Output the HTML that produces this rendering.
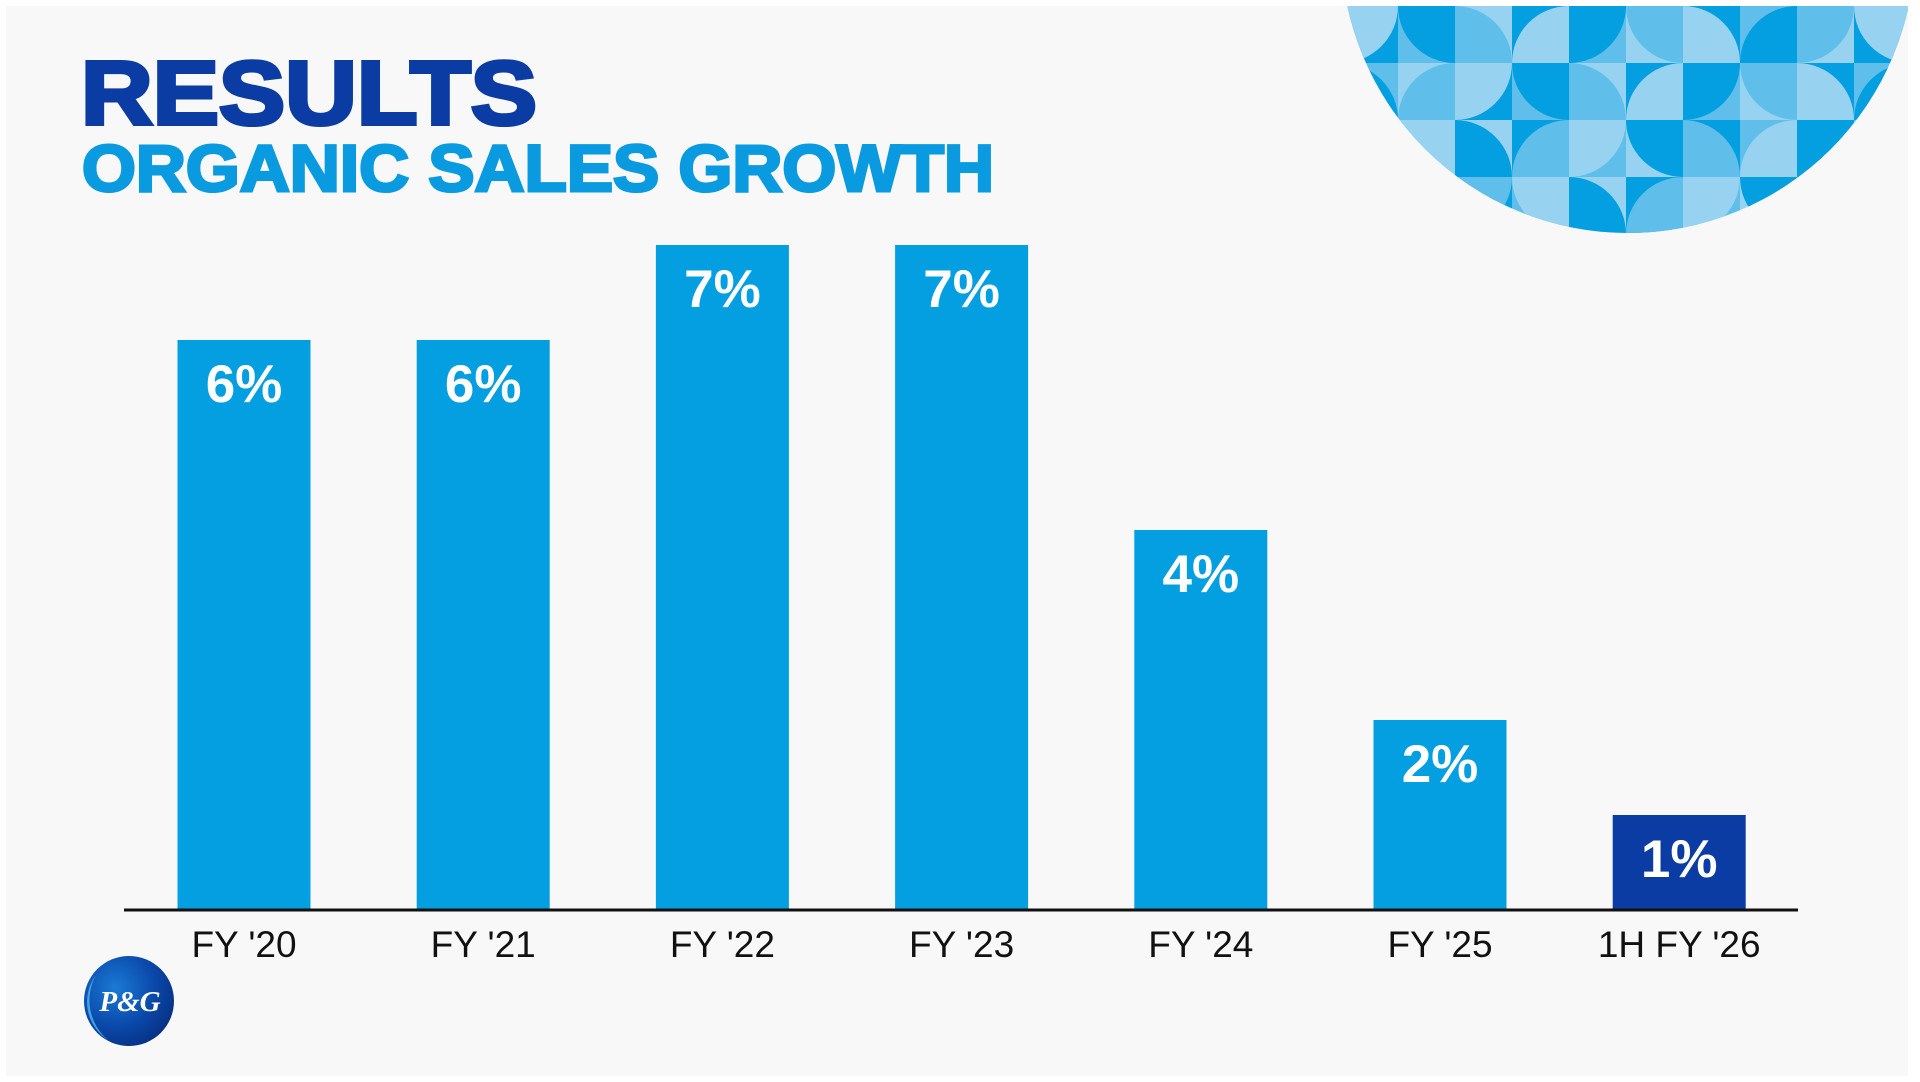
<!DOCTYPE html>
<html><head><meta charset="utf-8"><style>
html,body{margin:0;padding:0;background:#fff;}
svg{display:block;}
</style></head><body>
<svg id="chart" width="1920" height="1082" viewBox="0 0 1920 1082" xmlns="http://www.w3.org/2000/svg">
<defs>
<clipPath id="circ"><path d="M1341 6 L1908 6 L1908 260 L1341 260Z" transform=""/></clipPath>
<clipPath id="circ2"><circle cx="1628" cy="-54" r="287"/></clipPath>
<radialGradient id="logoG" cx="0.35" cy="0.35" r="0.75">
<stop offset="0" stop-color="#1a7ad6"/><stop offset="0.6" stop-color="#0a47a8"/><stop offset="1" stop-color="#062f80"/>
</radialGradient>
</defs>
<rect x="0" y="0" width="1920" height="1082" fill="#ffffff"/>
<rect x="6" y="6" width="1902" height="1070" fill="#f8f8f8"/>
<g clip-path="url(#circ)"><g id="pattern" clip-path="url(#circ2)"></g></g>
<text x="81" y="124" font-family="Liberation Sans, Arial, sans-serif" font-weight="bold" font-size="90" fill="#0a3ca3" stroke="#0a3ca3" stroke-width="4" textLength="456" lengthAdjust="spacingAndGlyphs">RESULTS</text>
<text x="82" y="191" font-family="Liberation Sans, Arial, sans-serif" font-weight="bold" font-size="66" fill="#0a9ae0" stroke="#0a9ae0" stroke-width="3" textLength="912" lengthAdjust="spacingAndGlyphs">ORGANIC SALES GROWTH</text>
<g id="bars"></g>
<line x1="124" y1="910" x2="1798" y2="910" stroke="#111" stroke-width="3"/>
<g id="xlabels"></g>
<g>
<circle cx="129" cy="1001" r="45" fill="url(#logoG)"/>
<path d="M96 975 A45 45 0 0 0 108 1040 A52 52 0 0 1 96 975Z" fill="#4fb6ef" opacity="0.8"/>
<text x="130" y="1011" text-anchor="middle" font-family="Liberation Serif, serif" font-style="italic" font-weight="bold" font-size="29" fill="#fff">P&amp;G</text>
</g>
</svg>
<script>
const categories = ["FY '20","FY '21","FY '22","FY '23","FY '24","FY '25","1H FY '26"];
const values = [6,6,7,7,4,2,1];
const valueLabels = ["6%","6%","7%","7%","4%","2%","1%"];
const highlight = [false,false,false,false,false,false,true];

const NS="http://www.w3.org/2000/svg";
const baseY=910, pxPerUnit=95, x0=244, step=239.2, barW=133;
function xScale(i){return x0+i*step;}
function yScale(v){return baseY-v*pxPerUnit;}
const bars=document.getElementById('bars');
const xl=document.getElementById('xlabels');
categories.forEach((c,i)=>{
  const cx=xScale(i), top=yScale(values[i]);
  const r=document.createElementNS(NS,'rect');
  r.setAttribute('x',cx-barW/2);r.setAttribute('y',top);
  r.setAttribute('width',barW);r.setAttribute('height',baseY-top);
  r.setAttribute('fill',highlight[i]?'#0a3ca3':'#049fe1');
  
  
  bars.appendChild(r);
  const t=document.createElementNS(NS,'text');
  t.setAttribute('x',cx);t.setAttribute('y',top+62);
  t.setAttribute('text-anchor','middle');
  t.setAttribute('font-family','Liberation Sans, Arial, sans-serif');
  t.setAttribute('font-weight','bold');t.setAttribute('font-size','53');
  t.setAttribute('fill','#fff');
  t.textContent=valueLabels[i];
  
  
  bars.appendChild(t);
  const l=document.createElementNS(NS,'text');
  l.setAttribute('x',cx);l.setAttribute('y',957);
  l.setAttribute('text-anchor','middle');
  l.setAttribute('font-family','Liberation Sans, Arial, sans-serif');
  l.setAttribute('font-size','37');l.setAttribute('fill','#111');
  l.textContent=c;
  
  
  xl.appendChild(l);
});

// decorative tile pattern
const pat=document.getElementById('pattern');
const cols=['#039fe0','#5fbfea','#97d3f1'];
const cw=57, ch=57, gx=1341, gy=6;
for(let r=0;r<5;r++){for(let c=0;c<11;c++){
  const x=gx+c*cw, y=gy+r*ch;
  const base=cols[(r+c+ (r>=2?1:0))%3];
  const rc=document.createElementNS(NS,'rect');
  rc.setAttribute('x',x);rc.setAttribute('y',y);rc.setAttribute('width',cw+0.5);rc.setAttribute('height',ch+0.5);
  rc.setAttribute('fill',base);
  pat.appendChild(rc);
  const q=document.createElementNS(NS,'path');
  const k=(r*2+c)%4;
  let d;
  if(k===0)d=`M${x} ${y} L${x+cw} ${y} A${cw} ${ch} 0 0 1 ${x} ${y+ch}Z`;
  else if(k===1)d=`M${x+cw} ${y} L${x+cw} ${y+ch} A${cw} ${ch} 0 0 1 ${x} ${y}Z`;
  else if(k===2)d=`M${x} ${y+ch} L${x} ${y} A${cw} ${ch} 0 0 1 ${x+cw} ${y+ch}Z`;
  else d=`M${x+cw} ${y+ch} L${x} ${y+ch} A${cw} ${ch} 0 0 1 ${x+cw} ${y}Z`;
  q.setAttribute('d',d);
  q.setAttribute('fill',cols[(r+c+2)%3]);
  pat.appendChild(q);
}}
</script>
</body></html>
